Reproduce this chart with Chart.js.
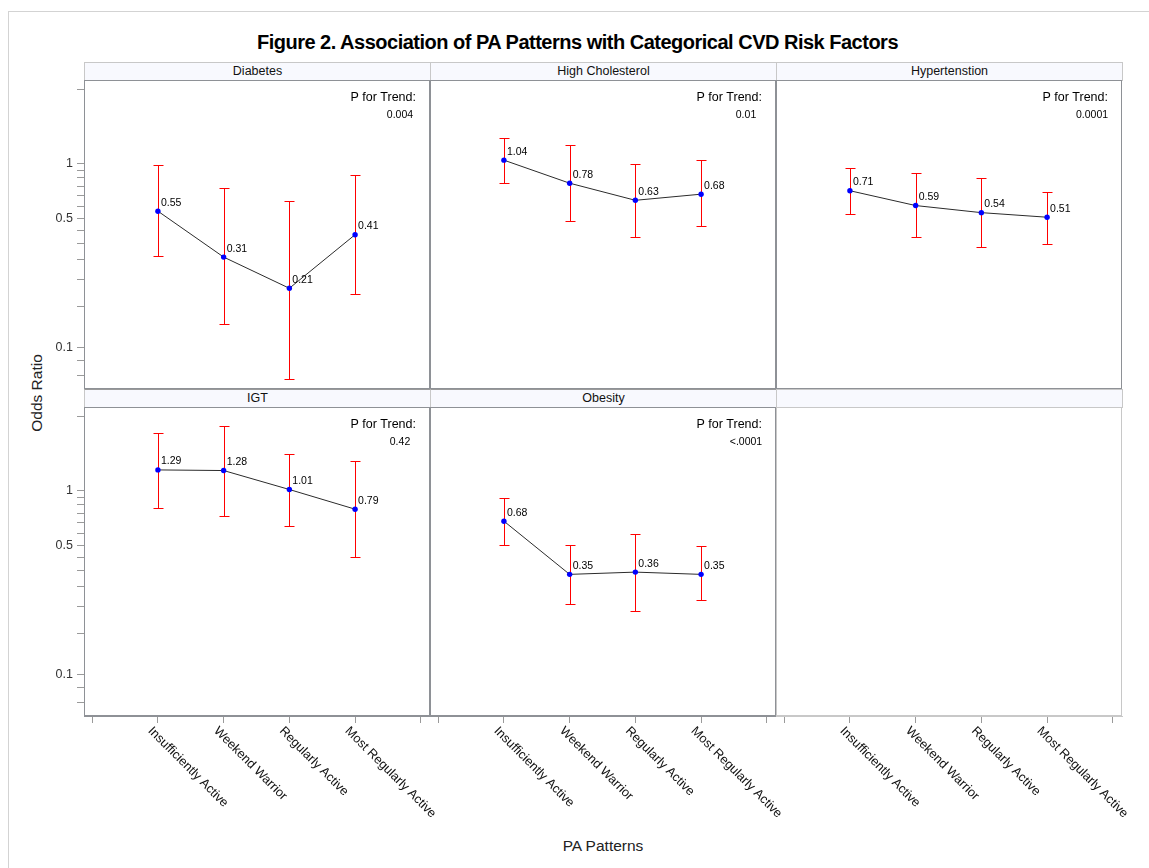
<!DOCTYPE html>
<html>
<head>
<meta charset="utf-8">
<title>Figure 2. Association of PA Patterns with Categorical CVD Risk Factors</title>
<script src="https://cdn.jsdelivr.net/npm/chart.js@4/dist/chart.umd.min.js"></script>
<style>
html,body{margin:0;padding:0;background:#fff;}
body{position:relative;width:1149px;height:868px;overflow:hidden;font-family:'Liberation Sans',Arial,Helvetica,sans-serif;color:#000;}
#frame{position:absolute;left:8px;top:11px;width:1200px;height:900px;border:1px solid #d3d3d3;box-sizing:border-box;}
#title{position:absolute;left:0;width:1155px;top:30px;text-align:center;font-weight:bold;font-size:20px;letter-spacing:-0.5px;line-height:24px;white-space:nowrap;}
.hdr{position:absolute;box-sizing:border-box;height:19px;background:#f8f9fe;border:1px solid #c8c8c8;text-align:center;font-size:12.5px;line-height:17px;color:#111;white-space:nowrap;}
.cv{position:absolute;}
#ytitle{position:absolute;left:-63px;top:383px;width:200px;height:20px;line-height:20px;text-align:center;font-size:15.5px;color:#222;transform:rotate(-90deg);white-space:nowrap;}
#xtitle{position:absolute;left:403px;top:836px;width:400px;height:20px;line-height:20px;text-align:center;font-size:15.5px;color:#222;white-space:nowrap;}
</style>
</head>
<body>
<div id="frame"></div>
<div id="title">Figure 2. Association of PA Patterns with Categorical CVD Risk Factors</div>
<div id="ytitle">Odds Ratio</div>
<div id="xtitle">PA Patterns</div>
<script>
// ---------- data ----------
const categories = ['Insufficiently Active', 'Weekend Warrior', 'Regularly Active', 'Most Regularly Active'];
const panelNames = ['Diabetes', 'High Cholesterol', 'Hypertenstion', 'IGT', 'Obesity'];
const pTrendLabel = 'P for Trend:';
const pTrend = ['0.004', '0.01', '0.0001', '0.42', '<.0001'];

const orDiabetes = [0.55, 0.31, 0.21, 0.41];
const loDiabetes = [0.314, 0.134, 0.0674, 0.196];
const hiDiabetes = [0.975, 0.733, 0.628, 0.861];

const orCholesterol = [1.04, 0.78, 0.63, 0.68];
const loCholesterol = [0.78, 0.486, 0.398, 0.458];
const hiCholesterol = [1.376, 1.26, 0.988, 1.04];

const orHypertension = [0.71, 0.59, 0.54, 0.51];
const loHypertension = [0.530, 0.398, 0.352, 0.365];
const hiHypertension = [0.94, 0.883, 0.83, 0.703];

const orIGT = [1.29, 1.28, 1.01, 0.79];
const loIGT = [0.806, 0.730, 0.644, 0.433];
const hiIGT = [2.05, 2.236, 1.578, 1.447];

const orObesity = [0.68, 0.35, 0.36, 0.35];
const loObesity = [0.508, 0.241, 0.221, 0.253];
const hiObesity = [0.913, 0.502, 0.581, 0.496];

const yTickValues = [0.0703, 0.0849, 0.1, 0.167, 0.233, 0.3, 0.367, 0.433, 0.5, 0.583, 0.667, 0.75, 0.833, 0.917, 1, 2.5];
const yTickLabels = {'0.1': '0.1', '0.5': '0.5', '1': '1'};
const yRange = [0.0597, 2.83];
const xTickValues = [0, 1, 2, 3, 4, 5];
const xRange = [-0.125, 5.14];

// ---------- layout / style ----------
const FONT = "'Liberation Sans', Arial, Helvetica, sans-serif";
const colLeft = [84, 430, 776];
const colWidth = 346;
const rowTop = [80, 407];
const rowHeight = 309;
const hdrTop = [62, 389];
const pageW = 1149, pageH = 868;

const panels = [
  {name: panelNames[0], p: pTrend[0], or: orDiabetes, lo: loDiabetes, hi: hiDiabetes},
  {name: panelNames[1], p: pTrend[1], or: orCholesterol, lo: loCholesterol, hi: hiCholesterol},
  {name: panelNames[2], p: pTrend[2], or: orHypertension, lo: loHypertension, hi: hiHypertension},
  {name: panelNames[3], p: pTrend[3], or: orIGT, lo: loIGT, hi: hiIGT},
  {name: panelNames[4], p: pTrend[4], or: orObesity, lo: loObesity, hi: hiObesity},
  null
];

panels.forEach((pn, k) => {
  const row = Math.floor(k / 3), col = k % 3;
  // header strip
  const h = document.createElement('div');
  h.className = 'hdr';
  h.style.left = colLeft[col] + 'px';
  h.style.top = hdrTop[row] + 'px';
  h.style.width = (colWidth + 1) + 'px';
  if (row === 1) h.style.borderTopColor = pn ? '#9a9a9a' : '#c8c8c8';
  h.textContent = pn ? pn.name : '';
  document.body.appendChild(h);

  const chartLeft = colLeft[col], chartRight = colLeft[col] + colWidth;
  const wrapLeft = col === 0 ? 0 : chartLeft;
  const padRight = row === 1 ? (col === 2 ? pageW - chartRight : 30) : 0;
  const wrapW = chartRight - wrapLeft + padRight;
  const wrapTop = rowTop[row];
  const wrapH = row === 1 ? pageH - wrapTop : rowHeight;
  const yAxisW = col === 0 ? chartLeft : 0;
  const xAxisH = row === 1 ? pageH - (rowTop[1] + rowHeight) : 0;

  const cv = document.createElement('canvas');
  cv.className = 'cv';
  cv.width = wrapW; cv.height = wrapH;
  cv.style.left = wrapLeft + 'px'; cv.style.top = wrapTop + 'px';
  cv.style.width = wrapW + 'px'; cv.style.height = wrapH + 'px';
  document.body.appendChild(cv);

  const datasets = pn ? [{
    data: pn.or.map((v, i) => ({x: i + 1, y: v})),
    borderColor: '#2b2b2b',
    borderWidth: 1,
    tension: 0,
    fill: false,
    pointRadius: 2.7,
    pointBorderWidth: 0,
    pointBackgroundColor: '#0000ff',
    pointBorderColor: '#0000ff'
  }] : [];

  const deco = {
    id: 'deco' + k,
    beforeDatasetsDraw(chart) {
      if (!pn) return;
      const ctx = chart.ctx, xs = chart.scales.x, ys = chart.scales.y;
      ctx.save();
      ctx.strokeStyle = '#ff0000';
      ctx.lineWidth = 1;
      pn.or.forEach((v, i) => {
        const px = Math.round(xs.getPixelForValue(i + 1)) + 0.5;
        const yh = Math.round(ys.getPixelForValue(pn.hi[i])) + 0.5;
        const yl = Math.round(ys.getPixelForValue(pn.lo[i])) + 0.5;
        ctx.beginPath();
        ctx.moveTo(px, yh); ctx.lineTo(px, yl);
        ctx.moveTo(px - 5, yh); ctx.lineTo(px + 5, yh);
        ctx.moveTo(px - 5, yl); ctx.lineTo(px + 5, yl);
        ctx.stroke();
      });
      ctx.restore();
    },
    afterDatasetsDraw(chart) {
      if (!pn) return;
      const ctx = chart.ctx, xs = chart.scales.x, ys = chart.scales.y, ca = chart.chartArea;
      ctx.save();
      ctx.fillStyle = '#000';
      ctx.font = '10.5px ' + FONT;
      ctx.textAlign = 'left';
      ctx.textBaseline = 'alphabetic';
      pn.or.forEach((v, i) => {
        const px = xs.getPixelForValue(i + 1);
        const py = ys.getPixelForValue(v);
        ctx.fillText(v.toFixed(2), px + 3, py - 5.5);
      });
      ctx.font = '12.5px ' + FONT;
      ctx.textAlign = 'right';
      ctx.fillText(pTrendLabel, ca.right - 14, ca.top + 20.7);
      ctx.font = '10.5px ' + FONT;
      ctx.textAlign = 'center';
      ctx.fillText(pn.p, ca.right - 30, ca.top + 38.3);
      ctx.restore();
    },
    afterDraw(chart) {
      const ctx = chart.ctx, ca = chart.chartArea;
      ctx.save();
      ctx.strokeStyle = pn ? '#8e9196' : '#c8c8c8';
      ctx.lineWidth = 1;
      ctx.strokeRect(ca.left + 0.5, ca.top + 0.5, ca.right - ca.left - 1, ca.bottom - ca.top - 1);
      if (row === 1) {
        const xs = chart.scales.x;
        ctx.fillStyle = '#111';
        ctx.font = '12.7px ' + FONT;
        ctx.textAlign = 'left';
        ctx.textBaseline = 'middle';
        categories.forEach((c, i) => {
          const px = xs.getPixelForValue(i + 1);
          ctx.save();
          ctx.translate(px - 8, ca.bottom + 13);
          ctx.rotate(Math.PI / 4);
          ctx.fillText(c, 0, 0);
          ctx.restore();
        });
      }
      ctx.restore();
    }
  };

  new Chart(cv, {
    type: 'line',
    data: {datasets},
    options: {
      responsive: false,
      maintainAspectRatio: false,
      devicePixelRatio: 1,
      animation: false,
      events: [],
      layout: {autoPadding: false, padding: {left: 0, right: padRight, top: 0, bottom: 0}},
      plugins: {legend: {display: false}, tooltip: {enabled: false}, title: {display: false}},
      scales: {
        x: {
          type: 'linear',
          min: xRange[0], max: xRange[1],
          display: row === 1,
          afterBuildTicks: s => { s.ticks = xTickValues.map(v => ({value: v})); },
          afterFit: s => { s.height = xAxisH; s.paddingLeft = 0; s.paddingRight = 0; },
          ticks: {autoSkip: false, minRotation: 0, maxRotation: 0, callback: () => '', font: {family: FONT, size: 12}},
          grid: {display: true, drawOnChartArea: false, drawTicks: true, tickLength: 7, color: '#9a9a9a', lineWidth: 1},
          border: {display: true, color: pn ? '#8e9196' : '#c8c8c8'}
        },
        y: {
          type: 'logarithmic',
          min: yRange[0], max: yRange[1],
          display: col === 0,
          afterBuildTicks: s => { s.ticks = yTickValues.map(v => ({value: v})); },
          afterFit: s => { s.width = yAxisW; s.paddingTop = 0; s.paddingBottom = 0; },
          ticks: {
            autoSkip: false, padding: 4, color: '#333',
            font: {family: FONT, size: 12.5},
            callback: v => yTickLabels[String(v)] || ''
          },
          grid: {display: true, drawOnChartArea: false, drawTicks: true, tickLength: 7, color: '#9a9a9a', lineWidth: 1},
          border: {display: true, color: '#8e9196'}
        }
      }
    },
    plugins: [deco]
  });
});
</script>
</body>
</html>
